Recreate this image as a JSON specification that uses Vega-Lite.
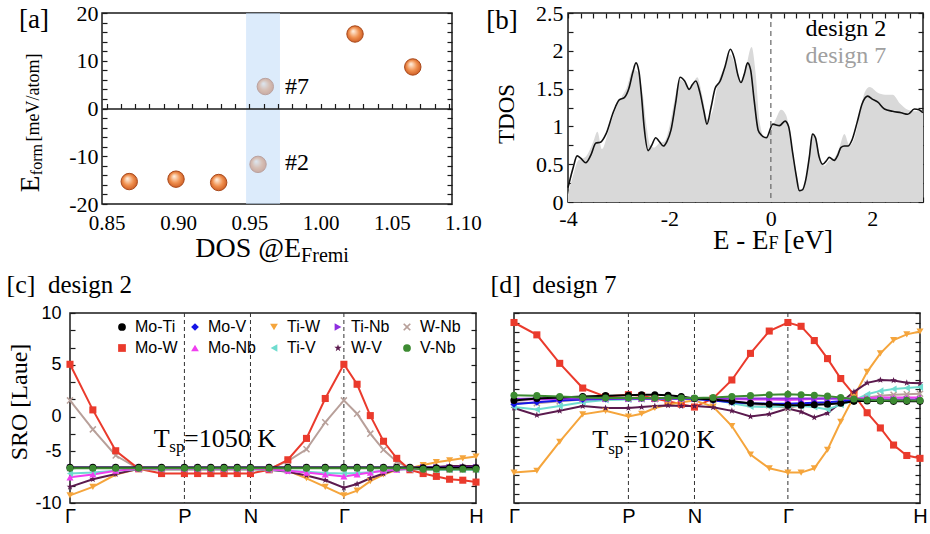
{
 "$schema": "https://vega.github.io/schema/vega-lite/v6.json",
 "background": "white",
 "padding": {"left": 5, "top": 1, "right": 0, "bottom": 0},
 "spacing": 4,
 "config": {
  "view": {"stroke": "#1a1a1a", "strokeWidth": 1.5},
  "axis": {"grid": false, "domain": false, "labelColor": "black", "tickColor": "#1a1a1a", "tickWidth": 1.2, "titleColor": "black", "titleFontWeight": "normal", "labelFont": "Liberation Serif", "titleFont": "Liberation Serif", "labelFlush": false, "labelOverlap": false},
  "text": {"font": "Liberation Serif", "color": "black"}
 },
 "resolve": {"legend": {"color": "independent", "shape": "independent"}},
 "datasets": {
  "kp": [{"k": 0.866}, {"k": 1.366}, {"k": 2.073}],
  "d2": [{"e":-4,"t":0.19},{"e":-3.9,"t":0.45},{"e":-3.82,"t":0.61},{"e":-3.75,"t":0.58},{"e":-3.65,"t":0.52},{"e":-3.55,"t":0.62},{"e":-3.45,"t":0.78},{"e":-3.36,"t":0.79},{"e":-3.25,"t":0.9},{"e":-3.1,"t":1.2},{"e":-2.99,"t":1.35},{"e":-2.89,"t":1.38},{"e":-2.8,"t":1.5},{"e":-2.72,"t":1.72},{"e":-2.66,"t":1.84},{"e":-2.6,"t":1.72},{"e":-2.55,"t":1.4},{"e":-2.5,"t":1.0},{"e":-2.42,"t":0.68},{"e":-2.35,"t":0.75},{"e":-2.27,"t":0.85},{"e":-2.2,"t":0.8},{"e":-2.12,"t":0.74},{"e":-2.05,"t":0.8},{"e":-1.97,"t":0.95},{"e":-1.88,"t":1.3},{"e":-1.79,"t":1.65},{"e":-1.7,"t":1.6},{"e":-1.61,"t":1.49},{"e":-1.55,"t":1.55},{"e":-1.48,"t":1.6},{"e":-1.4,"t":1.45},{"e":-1.32,"t":1.2},{"e":-1.26,"t":1.03},{"e":-1.18,"t":1.25},{"e":-1.1,"t":1.5},{"e":-1.0,"t":1.6},{"e":-0.9,"t":1.8},{"e":-0.8,"t":2.02},{"e":-0.72,"t":1.9},{"e":-0.65,"t":1.68},{"e":-0.59,"t":1.58},{"e":-0.52,"t":1.7},{"e":-0.46,"t":1.84},{"e":-0.4,"t":1.75},{"e":-0.33,"t":1.35},{"e":-0.25,"t":0.95},{"e":-0.18,"t":0.88},{"e":-0.09,"t":0.85},{"e":0.04,"t":1.03},{"e":0.17,"t":1.01},{"e":0.28,"t":1.07},{"e":0.35,"t":1.0},{"e":0.43,"t":0.65},{"e":0.5,"t":0.35},{"e":0.56,"t":0.15},{"e":0.62,"t":0.16},{"e":0.69,"t":0.3},{"e":0.76,"t":0.6},{"e":0.82,"t":0.9},{"e":0.88,"t":0.85},{"e":0.95,"t":0.6},{"e":1.02,"t":0.5},{"e":1.1,"t":0.55},{"e":1.15,"t":0.59},{"e":1.25,"t":0.55},{"e":1.32,"t":0.62},{"e":1.38,"t":0.72},{"e":1.45,"t":0.74},{"e":1.52,"t":0.74},{"e":1.6,"t":0.82},{"e":1.7,"t":1.05},{"e":1.8,"t":1.3},{"e":1.91,"t":1.4},{"e":2.0,"t":1.36},{"e":2.11,"t":1.32},{"e":2.24,"t":1.23},{"e":2.4,"t":1.2},{"e":2.57,"t":1.18},{"e":2.7,"t":1.16},{"e":2.83,"t":1.23},{"e":2.92,"t":1.22},{"e":3.0,"t":1.18}],
  "d7": [{"e":-4,"t":0.1},{"e":-3.9,"t":0.35},{"e":-3.8,"t":0.55},{"e":-3.65,"t":0.6},{"e":-3.5,"t":0.8},{"e":-3.42,"t":0.93},{"e":-3.33,"t":0.7},{"e":-3.2,"t":0.95},{"e":-3.05,"t":1.25},{"e":-2.95,"t":1.38},{"e":-2.85,"t":1.5},{"e":-2.72,"t":1.75},{"e":-2.62,"t":1.72},{"e":-2.52,"t":1.4},{"e":-2.45,"t":1.0},{"e":-2.38,"t":0.75},{"e":-2.3,"t":0.72},{"e":-2.2,"t":0.78},{"e":-2.1,"t":0.8},{"e":-2.0,"t":1.0},{"e":-1.9,"t":1.35},{"e":-1.8,"t":1.62},{"e":-1.7,"t":1.58},{"e":-1.6,"t":1.5},{"e":-1.45,"t":1.65},{"e":-1.35,"t":1.4},{"e":-1.25,"t":1.1},{"e":-1.15,"t":1.2},{"e":-1.05,"t":1.55},{"e":-0.9,"t":1.8},{"e":-0.8,"t":1.95},{"e":-0.7,"t":1.8},{"e":-0.6,"t":1.6},{"e":-0.5,"t":1.75},{"e":-0.38,"t":2.05},{"e":-0.3,"t":1.7},{"e":-0.22,"t":1.05},{"e":-0.12,"t":0.85},{"e":0.0,"t":0.95},{"e":0.1,"t":1.1},{"e":0.2,"t":1.22},{"e":0.3,"t":1.15},{"e":0.4,"t":0.8},{"e":0.5,"t":0.4},{"e":0.6,"t":0.15},{"e":0.7,"t":0.3},{"e":0.8,"t":0.85},{"e":0.87,"t":0.88},{"e":0.95,"t":0.65},{"e":1.05,"t":0.48},{"e":1.15,"t":0.55},{"e":1.25,"t":0.58},{"e":1.35,"t":0.72},{"e":1.45,"t":0.9},{"e":1.55,"t":0.75},{"e":1.65,"t":0.85},{"e":1.75,"t":1.15},{"e":1.85,"t":1.45},{"e":1.95,"t":1.52},{"e":2.1,"t":1.45},{"e":2.25,"t":1.42},{"e":2.4,"t":1.42},{"e":2.55,"t":1.3},{"e":2.7,"t":1.22},{"e":2.85,"t":1.2},{"e":3.0,"t":1.2}],
  "c": [
   {"s":"W-Nb","k":0,"v":0.8},{"s":"W-Nb","k":0.173,"v":-2.25},{"s":"W-Nb","k":0.346,"v":-5},{"s":"W-Nb","k":0.52,"v":-6.4},{"s":"W-Nb","k":0.693,"v":-6.5},{"s":"W-Nb","k":0.866,"v":-6.5},{"s":"W-Nb","k":0.966,"v":-6.5},{"s":"W-Nb","k":1.066,"v":-6.5},{"s":"W-Nb","k":1.166,"v":-6.5},{"s":"W-Nb","k":1.266,"v":-6.5},{"s":"W-Nb","k":1.366,"v":-6.5},{"s":"W-Nb","k":1.507,"v":-6.4},{"s":"W-Nb","k":1.649,"v":-5.6},{"s":"W-Nb","k":1.79,"v":-4.35},{"s":"W-Nb","k":1.932,"v":-1.5},{"s":"W-Nb","k":2.073,"v":0.8},{"s":"W-Nb","k":2.173,"v":-0.6},{"s":"W-Nb","k":2.273,"v":-2.7},{"s":"W-Nb","k":2.373,"v":-4.4},{"s":"W-Nb","k":2.473,"v":-5.65},{"s":"W-Nb","k":2.573,"v":-6.35},{"s":"W-Nb","k":2.673,"v":-6.5},{"s":"W-Nb","k":2.773,"v":-6.5},{"s":"W-Nb","k":2.873,"v":-6.5},{"s":"W-Nb","k":2.973,"v":-6.5},{"s":"W-Nb","k":3.073,"v":-6.5},
   {"s":"Mo-W","k":0,"v":4.6},{"s":"Mo-W","k":0.173,"v":-0.2},{"s":"Mo-W","k":0.346,"v":-4.5},{"s":"Mo-W","k":0.52,"v":-6.4},{"s":"Mo-W","k":0.693,"v":-6.9},{"s":"Mo-W","k":0.866,"v":-6.9},{"s":"Mo-W","k":0.966,"v":-6.9},{"s":"Mo-W","k":1.066,"v":-6.9},{"s":"Mo-W","k":1.166,"v":-6.9},{"s":"Mo-W","k":1.266,"v":-6.9},{"s":"Mo-W","k":1.366,"v":-6.9},{"s":"Mo-W","k":1.507,"v":-6.5},{"s":"Mo-W","k":1.649,"v":-5.45},{"s":"Mo-W","k":1.79,"v":-3.2},{"s":"Mo-W","k":1.932,"v":1},{"s":"Mo-W","k":2.073,"v":4.6},{"s":"Mo-W","k":2.173,"v":2.5},{"s":"Mo-W","k":2.273,"v":-0.8},{"s":"Mo-W","k":2.373,"v":-3.5},{"s":"Mo-W","k":2.473,"v":-5.3},{"s":"Mo-W","k":2.573,"v":-6.5},{"s":"Mo-W","k":2.673,"v":-6.9},{"s":"Mo-W","k":2.773,"v":-7.2},{"s":"Mo-W","k":2.873,"v":-7.5},{"s":"Mo-W","k":2.973,"v":-7.6},{"s":"Mo-W","k":3.073,"v":-7.8},
   {"s":"Ti-W","k":0,"v":-9.2},{"s":"Ti-W","k":0.173,"v":-8.3},{"s":"Ti-W","k":0.346,"v":-7},{"s":"Ti-W","k":0.52,"v":-6.4},{"s":"Ti-W","k":0.693,"v":-6.4},{"s":"Ti-W","k":0.866,"v":-6.4},{"s":"Ti-W","k":0.966,"v":-6.4},{"s":"Ti-W","k":1.066,"v":-6.4},{"s":"Ti-W","k":1.166,"v":-6.4},{"s":"Ti-W","k":1.266,"v":-6.4},{"s":"Ti-W","k":1.366,"v":-6.4},{"s":"Ti-W","k":1.507,"v":-6.45},{"s":"Ti-W","k":1.649,"v":-6.6},{"s":"Ti-W","k":1.79,"v":-7.4},{"s":"Ti-W","k":1.932,"v":-8.3},{"s":"Ti-W","k":2.073,"v":-9.2},{"s":"Ti-W","k":2.173,"v":-8.7},{"s":"Ti-W","k":2.273,"v":-7.7},{"s":"Ti-W","k":2.373,"v":-7},{"s":"Ti-W","k":2.473,"v":-6.5},{"s":"Ti-W","k":2.573,"v":-6.35},{"s":"Ti-W","k":2.673,"v":-6},{"s":"Ti-W","k":2.773,"v":-5.7},{"s":"Ti-W","k":2.873,"v":-5.5},{"s":"Ti-W","k":2.973,"v":-5.3},{"s":"Ti-W","k":3.073,"v":-5.1},
   {"s":"W-V","k":0,"v":-8.3},{"s":"W-V","k":0.173,"v":-7.5},{"s":"W-V","k":0.346,"v":-6.95},{"s":"W-V","k":0.52,"v":-6.4},{"s":"W-V","k":0.693,"v":-6.4},{"s":"W-V","k":0.866,"v":-6.4},{"s":"W-V","k":0.966,"v":-6.4},{"s":"W-V","k":1.066,"v":-6.4},{"s":"W-V","k":1.166,"v":-6.4},{"s":"W-V","k":1.266,"v":-6.4},{"s":"W-V","k":1.366,"v":-6.4},{"s":"W-V","k":1.507,"v":-6.5},{"s":"W-V","k":1.649,"v":-6.7},{"s":"W-V","k":1.79,"v":-7.1},{"s":"W-V","k":1.932,"v":-7.6},{"s":"W-V","k":2.073,"v":-8.4},{"s":"W-V","k":2.173,"v":-8},{"s":"W-V","k":2.273,"v":-7.4},{"s":"W-V","k":2.373,"v":-6.9},{"s":"W-V","k":2.473,"v":-6.45},{"s":"W-V","k":2.573,"v":-6.35},{"s":"W-V","k":2.673,"v":-6.25},{"s":"W-V","k":2.773,"v":-6.2},{"s":"W-V","k":2.873,"v":-6.1},{"s":"W-V","k":2.973,"v":-6.1},{"s":"W-V","k":3.073,"v":-6.1},
   {"s":"Ti-V","k":0,"v":-6.9},{"s":"Ti-V","k":0.173,"v":-6.8},{"s":"Ti-V","k":0.346,"v":-6.6},{"s":"Ti-V","k":0.52,"v":-6.45},{"s":"Ti-V","k":0.693,"v":-6.45},{"s":"Ti-V","k":0.866,"v":-6.45},{"s":"Ti-V","k":0.966,"v":-6.45},{"s":"Ti-V","k":1.066,"v":-6.45},{"s":"Ti-V","k":1.166,"v":-6.45},{"s":"Ti-V","k":1.266,"v":-6.45},{"s":"Ti-V","k":1.366,"v":-6.45},{"s":"Ti-V","k":1.507,"v":-6.5},{"s":"Ti-V","k":1.649,"v":-6.6},{"s":"Ti-V","k":1.79,"v":-6.7},{"s":"Ti-V","k":1.932,"v":-6.85},{"s":"Ti-V","k":2.073,"v":-6.9},{"s":"Ti-V","k":2.173,"v":-6.85},{"s":"Ti-V","k":2.273,"v":-6.75},{"s":"Ti-V","k":2.373,"v":-6.6},{"s":"Ti-V","k":2.473,"v":-6.5},{"s":"Ti-V","k":2.573,"v":-6.45},{"s":"Ti-V","k":2.673,"v":-6.45},{"s":"Ti-V","k":2.773,"v":-6.5},{"s":"Ti-V","k":2.873,"v":-6.5},{"s":"Ti-V","k":2.973,"v":-6.5},{"s":"Ti-V","k":3.073,"v":-6.5},
   {"s":"Mo-Nb","k":0,"v":-7.3},{"s":"Mo-Nb","k":0.173,"v":-7},{"s":"Mo-Nb","k":0.346,"v":-6.6},{"s":"Mo-Nb","k":0.52,"v":-6.4},{"s":"Mo-Nb","k":0.693,"v":-6.4},{"s":"Mo-Nb","k":0.866,"v":-6.4},{"s":"Mo-Nb","k":0.966,"v":-6.4},{"s":"Mo-Nb","k":1.066,"v":-6.4},{"s":"Mo-Nb","k":1.166,"v":-6.4},{"s":"Mo-Nb","k":1.266,"v":-6.4},{"s":"Mo-Nb","k":1.366,"v":-6.4},{"s":"Mo-Nb","k":1.507,"v":-6.45},{"s":"Mo-Nb","k":1.649,"v":-6.6},{"s":"Mo-Nb","k":1.79,"v":-6.8},{"s":"Mo-Nb","k":1.932,"v":-7},{"s":"Mo-Nb","k":2.073,"v":-7.2},{"s":"Mo-Nb","k":2.173,"v":-7},{"s":"Mo-Nb","k":2.273,"v":-6.8},{"s":"Mo-Nb","k":2.373,"v":-6.6},{"s":"Mo-Nb","k":2.473,"v":-6.5},{"s":"Mo-Nb","k":2.573,"v":-6.4},{"s":"Mo-Nb","k":2.673,"v":-6.4},{"s":"Mo-Nb","k":2.773,"v":-6.4},{"s":"Mo-Nb","k":2.873,"v":-6.4},{"s":"Mo-Nb","k":2.973,"v":-6.4},{"s":"Mo-Nb","k":3.073,"v":-6.4},
   {"s":"Mo-V","k":0,"v":-6.3},{"s":"Mo-V","k":0.173,"v":-6.3},{"s":"Mo-V","k":0.346,"v":-6.3},{"s":"Mo-V","k":0.52,"v":-6.3},{"s":"Mo-V","k":0.693,"v":-6.3},{"s":"Mo-V","k":0.866,"v":-6.3},{"s":"Mo-V","k":0.966,"v":-6.3},{"s":"Mo-V","k":1.066,"v":-6.3},{"s":"Mo-V","k":1.166,"v":-6.3},{"s":"Mo-V","k":1.266,"v":-6.3},{"s":"Mo-V","k":1.366,"v":-6.3},{"s":"Mo-V","k":1.507,"v":-6.3},{"s":"Mo-V","k":1.649,"v":-6.3},{"s":"Mo-V","k":1.79,"v":-6.3},{"s":"Mo-V","k":1.932,"v":-6.3},{"s":"Mo-V","k":2.073,"v":-6.3},{"s":"Mo-V","k":2.173,"v":-6.3},{"s":"Mo-V","k":2.273,"v":-6.3},{"s":"Mo-V","k":2.373,"v":-6.3},{"s":"Mo-V","k":2.473,"v":-6.3},{"s":"Mo-V","k":2.573,"v":-6.3},{"s":"Mo-V","k":2.673,"v":-6.3},{"s":"Mo-V","k":2.773,"v":-6.3},{"s":"Mo-V","k":2.873,"v":-6.3},{"s":"Mo-V","k":2.973,"v":-6.3},{"s":"Mo-V","k":3.073,"v":-6.3},
   {"s":"Ti-Nb","k":0,"v":-6.3},{"s":"Ti-Nb","k":0.173,"v":-6.3},{"s":"Ti-Nb","k":0.346,"v":-6.3},{"s":"Ti-Nb","k":0.52,"v":-6.3},{"s":"Ti-Nb","k":0.693,"v":-6.3},{"s":"Ti-Nb","k":0.866,"v":-6.3},{"s":"Ti-Nb","k":0.966,"v":-6.3},{"s":"Ti-Nb","k":1.066,"v":-6.3},{"s":"Ti-Nb","k":1.166,"v":-6.3},{"s":"Ti-Nb","k":1.266,"v":-6.3},{"s":"Ti-Nb","k":1.366,"v":-6.3},{"s":"Ti-Nb","k":1.507,"v":-6.3},{"s":"Ti-Nb","k":1.649,"v":-6.3},{"s":"Ti-Nb","k":1.79,"v":-6.3},{"s":"Ti-Nb","k":1.932,"v":-6.3},{"s":"Ti-Nb","k":2.073,"v":-6.3},{"s":"Ti-Nb","k":2.173,"v":-6.3},{"s":"Ti-Nb","k":2.273,"v":-6.3},{"s":"Ti-Nb","k":2.373,"v":-6.3},{"s":"Ti-Nb","k":2.473,"v":-6.3},{"s":"Ti-Nb","k":2.573,"v":-6.3},{"s":"Ti-Nb","k":2.673,"v":-6.25},{"s":"Ti-Nb","k":2.773,"v":-6.25},{"s":"Ti-Nb","k":2.873,"v":-6.25},{"s":"Ti-Nb","k":2.973,"v":-6.25},{"s":"Ti-Nb","k":3.073,"v":-6.25},
   {"s":"Mo-Ti","k":0,"v":-6.25},{"s":"Mo-Ti","k":0.173,"v":-6.25},{"s":"Mo-Ti","k":0.346,"v":-6.25},{"s":"Mo-Ti","k":0.52,"v":-6.25},{"s":"Mo-Ti","k":0.693,"v":-6.25},{"s":"Mo-Ti","k":0.866,"v":-6.25},{"s":"Mo-Ti","k":0.966,"v":-6.25},{"s":"Mo-Ti","k":1.066,"v":-6.25},{"s":"Mo-Ti","k":1.166,"v":-6.25},{"s":"Mo-Ti","k":1.266,"v":-6.25},{"s":"Mo-Ti","k":1.366,"v":-6.25},{"s":"Mo-Ti","k":1.507,"v":-6.25},{"s":"Mo-Ti","k":1.649,"v":-6.25},{"s":"Mo-Ti","k":1.79,"v":-6.25},{"s":"Mo-Ti","k":1.932,"v":-6.25},{"s":"Mo-Ti","k":2.073,"v":-6.25},{"s":"Mo-Ti","k":2.173,"v":-6.25},{"s":"Mo-Ti","k":2.273,"v":-6.25},{"s":"Mo-Ti","k":2.373,"v":-6.25},{"s":"Mo-Ti","k":2.473,"v":-6.25},{"s":"Mo-Ti","k":2.573,"v":-6.25},{"s":"Mo-Ti","k":2.673,"v":-6.3},{"s":"Mo-Ti","k":2.773,"v":-6.3},{"s":"Mo-Ti","k":2.873,"v":-6.3},{"s":"Mo-Ti","k":2.973,"v":-6.3},{"s":"Mo-Ti","k":3.073,"v":-6.3},
   {"s":"V-Nb","k":0,"v":-6.35},{"s":"V-Nb","k":0.173,"v":-6.35},{"s":"V-Nb","k":0.346,"v":-6.35},{"s":"V-Nb","k":0.52,"v":-6.35},{"s":"V-Nb","k":0.693,"v":-6.35},{"s":"V-Nb","k":0.866,"v":-6.35},{"s":"V-Nb","k":0.966,"v":-6.35},{"s":"V-Nb","k":1.066,"v":-6.35},{"s":"V-Nb","k":1.166,"v":-6.35},{"s":"V-Nb","k":1.266,"v":-6.35},{"s":"V-Nb","k":1.366,"v":-6.35},{"s":"V-Nb","k":1.507,"v":-6.35},{"s":"V-Nb","k":1.649,"v":-6.35},{"s":"V-Nb","k":1.79,"v":-6.35},{"s":"V-Nb","k":1.932,"v":-6.35},{"s":"V-Nb","k":2.073,"v":-6.35},{"s":"V-Nb","k":2.173,"v":-6.35},{"s":"V-Nb","k":2.273,"v":-6.35},{"s":"V-Nb","k":2.373,"v":-6.35},{"s":"V-Nb","k":2.473,"v":-6.35},{"s":"V-Nb","k":2.573,"v":-6.35},{"s":"V-Nb","k":2.673,"v":-6.45},{"s":"V-Nb","k":2.773,"v":-6.45},{"s":"V-Nb","k":2.873,"v":-6.45},{"s":"V-Nb","k":2.973,"v":-6.45},{"s":"V-Nb","k":3.073,"v":-6.45}
  ],
  "d": [
   {"s":"W-Nb","k":0,"v":0.6},{"s":"W-Nb","k":0.173,"v":0.5},{"s":"W-Nb","k":0.346,"v":0.7},{"s":"W-Nb","k":0.52,"v":0.9},{"s":"W-Nb","k":0.693,"v":0.95},{"s":"W-Nb","k":0.866,"v":0.95},{"s":"W-Nb","k":0.966,"v":0.95},{"s":"W-Nb","k":1.066,"v":0.95},{"s":"W-Nb","k":1.166,"v":0.95},{"s":"W-Nb","k":1.266,"v":0.95},{"s":"W-Nb","k":1.366,"v":0.95},{"s":"W-Nb","k":1.507,"v":0.9},{"s":"W-Nb","k":1.649,"v":0.6},{"s":"W-Nb","k":1.79,"v":0.4},{"s":"W-Nb","k":1.932,"v":0.3},{"s":"W-Nb","k":2.073,"v":0},{"s":"W-Nb","k":2.173,"v":0.3},{"s":"W-Nb","k":2.273,"v":0.4},{"s":"W-Nb","k":2.373,"v":0.4},{"s":"W-Nb","k":2.473,"v":0.6},{"s":"W-Nb","k":2.573,"v":0.85},{"s":"W-Nb","k":2.673,"v":1.1},{"s":"W-Nb","k":2.773,"v":1.3},{"s":"W-Nb","k":2.873,"v":1.4},{"s":"W-Nb","k":2.973,"v":1.45},{"s":"W-Nb","k":3.073,"v":1.5},
   {"s":"Mo-W","k":0,"v":9},{"s":"Mo-W","k":0.173,"v":7.7},{"s":"Mo-W","k":0.346,"v":4.7},{"s":"Mo-W","k":0.52,"v":2.1},{"s":"Mo-W","k":0.693,"v":1.2},{"s":"Mo-W","k":0.866,"v":1.4},{"s":"Mo-W","k":0.966,"v":1.3},{"s":"Mo-W","k":1.066,"v":1},{"s":"Mo-W","k":1.166,"v":0.7},{"s":"Mo-W","k":1.266,"v":0.4},{"s":"Mo-W","k":1.366,"v":0.1},{"s":"Mo-W","k":1.507,"v":1},{"s":"Mo-W","k":1.649,"v":2.95},{"s":"Mo-W","k":1.79,"v":5.75},{"s":"Mo-W","k":1.932,"v":8.1},{"s":"Mo-W","k":2.073,"v":9},{"s":"Mo-W","k":2.173,"v":8.6},{"s":"Mo-W","k":2.273,"v":7.1},{"s":"Mo-W","k":2.373,"v":5.2},{"s":"Mo-W","k":2.473,"v":3.1},{"s":"Mo-W","k":2.573,"v":1.4},{"s":"Mo-W","k":2.673,"v":-0.5},{"s":"Mo-W","k":2.773,"v":-2.1},{"s":"Mo-W","k":2.873,"v":-3.9},{"s":"Mo-W","k":2.973,"v":-5},{"s":"Mo-W","k":3.073,"v":-5.3},
   {"s":"Ti-W","k":0,"v":-6.8},{"s":"Ti-W","k":0.173,"v":-6.6},{"s":"Ti-W","k":0.346,"v":-3.55},{"s":"Ti-W","k":0.52,"v":-0.67},{"s":"Ti-W","k":0.693,"v":-0.3},{"s":"Ti-W","k":0.866,"v":-0.9},{"s":"Ti-W","k":0.966,"v":-0.6},{"s":"Ti-W","k":1.066,"v":0},{"s":"Ti-W","k":1.166,"v":0.35},{"s":"Ti-W","k":1.266,"v":0.6},{"s":"Ti-W","k":1.366,"v":0.8},{"s":"Ti-W","k":1.507,"v":0.15},{"s":"Ti-W","k":1.649,"v":-1.9},{"s":"Ti-W","k":1.79,"v":-4.9},{"s":"Ti-W","k":1.932,"v":-6.35},{"s":"Ti-W","k":2.073,"v":-6.8},{"s":"Ti-W","k":2.173,"v":-6.8},{"s":"Ti-W","k":2.273,"v":-6.35},{"s":"Ti-W","k":2.373,"v":-4.4},{"s":"Ti-W","k":2.473,"v":-1.45},{"s":"Ti-W","k":2.573,"v":1.2},{"s":"Ti-W","k":2.673,"v":3.8},{"s":"Ti-W","k":2.773,"v":5.75},{"s":"Ti-W","k":2.873,"v":7.15},{"s":"Ti-W","k":2.973,"v":7.75},{"s":"Ti-W","k":3.073,"v":8.05},
   {"s":"W-V","k":0,"v":0},{"s":"W-V","k":0.173,"v":-0.75},{"s":"W-V","k":0.346,"v":-0.3},{"s":"W-V","k":0.52,"v":0.2},{"s":"W-V","k":0.693,"v":0},{"s":"W-V","k":0.866,"v":0},{"s":"W-V","k":0.966,"v":0.1},{"s":"W-V","k":1.066,"v":0.2},{"s":"W-V","k":1.166,"v":0.27},{"s":"W-V","k":1.266,"v":0.2},{"s":"W-V","k":1.366,"v":0.2},{"s":"W-V","k":1.507,"v":0.07},{"s":"W-V","k":1.649,"v":-0.3},{"s":"W-V","k":1.79,"v":-0.9},{"s":"W-V","k":1.932,"v":-0.65},{"s":"W-V","k":2.073,"v":-0.05},{"s":"W-V","k":2.173,"v":-0.4},{"s":"W-V","k":2.273,"v":-1},{"s":"W-V","k":2.373,"v":-0.55},{"s":"W-V","k":2.473,"v":0.55},{"s":"W-V","k":2.573,"v":1.7},{"s":"W-V","k":2.673,"v":2.65},{"s":"W-V","k":2.773,"v":2.95},{"s":"W-V","k":2.873,"v":2.9},{"s":"W-V","k":2.973,"v":2.65},{"s":"W-V","k":3.073,"v":2.6},
   {"s":"Ti-V","k":0,"v":0.1},{"s":"Ti-V","k":0.173,"v":-0.15},{"s":"Ti-V","k":0.346,"v":0.2},{"s":"Ti-V","k":0.52,"v":0.6},{"s":"Ti-V","k":0.693,"v":0.85},{"s":"Ti-V","k":0.866,"v":0.9},{"s":"Ti-V","k":0.966,"v":0.95},{"s":"Ti-V","k":1.066,"v":0.95},{"s":"Ti-V","k":1.166,"v":0.95},{"s":"Ti-V","k":1.266,"v":0.95},{"s":"Ti-V","k":1.366,"v":0.95},{"s":"Ti-V","k":1.507,"v":0.9},{"s":"Ti-V","k":1.649,"v":0.5},{"s":"Ti-V","k":1.79,"v":0.15},{"s":"Ti-V","k":1.932,"v":0.1},{"s":"Ti-V","k":2.073,"v":0.2},{"s":"Ti-V","k":2.173,"v":0.2},{"s":"Ti-V","k":2.273,"v":0.1},{"s":"Ti-V","k":2.373,"v":-0.15},{"s":"Ti-V","k":2.473,"v":0.35},{"s":"Ti-V","k":2.573,"v":0.8},{"s":"Ti-V","k":2.673,"v":1.45},{"s":"Ti-V","k":2.773,"v":1.8},{"s":"Ti-V","k":2.873,"v":2},{"s":"Ti-V","k":2.973,"v":2.1},{"s":"Ti-V","k":3.073,"v":2.2},
   {"s":"Mo-Nb","k":0,"v":0.9},{"s":"Mo-Nb","k":0.173,"v":0.9},{"s":"Mo-Nb","k":0.346,"v":0.95},{"s":"Mo-Nb","k":0.52,"v":1},{"s":"Mo-Nb","k":0.693,"v":1},{"s":"Mo-Nb","k":0.866,"v":1},{"s":"Mo-Nb","k":0.966,"v":1},{"s":"Mo-Nb","k":1.066,"v":1},{"s":"Mo-Nb","k":1.166,"v":1},{"s":"Mo-Nb","k":1.266,"v":1},{"s":"Mo-Nb","k":1.366,"v":1},{"s":"Mo-Nb","k":1.507,"v":1},{"s":"Mo-Nb","k":1.649,"v":0.95},{"s":"Mo-Nb","k":1.79,"v":0.9},{"s":"Mo-Nb","k":1.932,"v":0.9},{"s":"Mo-Nb","k":2.073,"v":0.85},{"s":"Mo-Nb","k":2.173,"v":0.9},{"s":"Mo-Nb","k":2.273,"v":0.95},{"s":"Mo-Nb","k":2.373,"v":1},{"s":"Mo-Nb","k":2.473,"v":1},{"s":"Mo-Nb","k":2.573,"v":1},{"s":"Mo-Nb","k":2.673,"v":1.05},{"s":"Mo-Nb","k":2.773,"v":1.1},{"s":"Mo-Nb","k":2.873,"v":1.1},{"s":"Mo-Nb","k":2.973,"v":1.1},{"s":"Mo-Nb","k":3.073,"v":1.1},
   {"s":"Mo-V","k":0,"v":0.4},{"s":"Mo-V","k":0.173,"v":0.6},{"s":"Mo-V","k":0.346,"v":0.8},{"s":"Mo-V","k":0.52,"v":0.9},{"s":"Mo-V","k":0.693,"v":0.95},{"s":"Mo-V","k":0.866,"v":1},{"s":"Mo-V","k":0.966,"v":1},{"s":"Mo-V","k":1.066,"v":1},{"s":"Mo-V","k":1.166,"v":1},{"s":"Mo-V","k":1.266,"v":1},{"s":"Mo-V","k":1.366,"v":0.95},{"s":"Mo-V","k":1.507,"v":0.8},{"s":"Mo-V","k":1.649,"v":0.6},{"s":"Mo-V","k":1.79,"v":0.5},{"s":"Mo-V","k":1.932,"v":0.45},{"s":"Mo-V","k":2.073,"v":0.45},{"s":"Mo-V","k":2.173,"v":0.5},{"s":"Mo-V","k":2.273,"v":0.55},{"s":"Mo-V","k":2.373,"v":0.6},{"s":"Mo-V","k":2.473,"v":0.7},{"s":"Mo-V","k":2.573,"v":0.8},{"s":"Mo-V","k":2.673,"v":0.85},{"s":"Mo-V","k":2.773,"v":0.85},{"s":"Mo-V","k":2.873,"v":0.85},{"s":"Mo-V","k":2.973,"v":0.85},{"s":"Mo-V","k":3.073,"v":0.85},
   {"s":"Ti-Nb","k":0,"v":0.95},{"s":"Ti-Nb","k":0.173,"v":1},{"s":"Ti-Nb","k":0.346,"v":1},{"s":"Ti-Nb","k":0.52,"v":1},{"s":"Ti-Nb","k":0.693,"v":1},{"s":"Ti-Nb","k":0.866,"v":1},{"s":"Ti-Nb","k":0.966,"v":1},{"s":"Ti-Nb","k":1.066,"v":1},{"s":"Ti-Nb","k":1.166,"v":1},{"s":"Ti-Nb","k":1.266,"v":1},{"s":"Ti-Nb","k":1.366,"v":1},{"s":"Ti-Nb","k":1.507,"v":1},{"s":"Ti-Nb","k":1.649,"v":1},{"s":"Ti-Nb","k":1.79,"v":1},{"s":"Ti-Nb","k":1.932,"v":1},{"s":"Ti-Nb","k":2.073,"v":1},{"s":"Ti-Nb","k":2.173,"v":1},{"s":"Ti-Nb","k":2.273,"v":1},{"s":"Ti-Nb","k":2.373,"v":1},{"s":"Ti-Nb","k":2.473,"v":1},{"s":"Ti-Nb","k":2.573,"v":0.95},{"s":"Ti-Nb","k":2.673,"v":0.9},{"s":"Ti-Nb","k":2.773,"v":0.9},{"s":"Ti-Nb","k":2.873,"v":0.9},{"s":"Ti-Nb","k":2.973,"v":0.9},{"s":"Ti-Nb","k":3.073,"v":0.9},
   {"s":"Mo-Ti","k":0,"v":0.8},{"s":"Mo-Ti","k":0.173,"v":1},{"s":"Mo-Ti","k":0.346,"v":1.1},{"s":"Mo-Ti","k":0.52,"v":1.2},{"s":"Mo-Ti","k":0.693,"v":1.3},{"s":"Mo-Ti","k":0.866,"v":1.35},{"s":"Mo-Ti","k":0.966,"v":1.4},{"s":"Mo-Ti","k":1.066,"v":1.4},{"s":"Mo-Ti","k":1.166,"v":1.35},{"s":"Mo-Ti","k":1.266,"v":1.2},{"s":"Mo-Ti","k":1.366,"v":1},{"s":"Mo-Ti","k":1.507,"v":0.9},{"s":"Mo-Ti","k":1.649,"v":0.7},{"s":"Mo-Ti","k":1.79,"v":0.5},{"s":"Mo-Ti","k":1.932,"v":0.4},{"s":"Mo-Ti","k":2.073,"v":0.3},{"s":"Mo-Ti","k":2.173,"v":0.3},{"s":"Mo-Ti","k":2.273,"v":0.35},{"s":"Mo-Ti","k":2.373,"v":0.4},{"s":"Mo-Ti","k":2.473,"v":0.5},{"s":"Mo-Ti","k":2.573,"v":0.7},{"s":"Mo-Ti","k":2.673,"v":0.75},{"s":"Mo-Ti","k":2.773,"v":0.75},{"s":"Mo-Ti","k":2.873,"v":0.7},{"s":"Mo-Ti","k":2.973,"v":0.7},{"s":"Mo-Ti","k":3.073,"v":0.7},
   {"s":"V-Nb","k":0,"v":1.35},{"s":"V-Nb","k":0.173,"v":1.3},{"s":"V-Nb","k":0.346,"v":1.2},{"s":"V-Nb","k":0.52,"v":1.1},{"s":"V-Nb","k":0.693,"v":1.05},{"s":"V-Nb","k":0.866,"v":1.05},{"s":"V-Nb","k":0.966,"v":1.05},{"s":"V-Nb","k":1.066,"v":1.05},{"s":"V-Nb","k":1.166,"v":1.05},{"s":"V-Nb","k":1.266,"v":1.05},{"s":"V-Nb","k":1.366,"v":1.05},{"s":"V-Nb","k":1.507,"v":1.1},{"s":"V-Nb","k":1.649,"v":1.2},{"s":"V-Nb","k":1.79,"v":1.3},{"s":"V-Nb","k":1.932,"v":1.4},{"s":"V-Nb","k":2.073,"v":1.45},{"s":"V-Nb","k":2.173,"v":1.4},{"s":"V-Nb","k":2.273,"v":1.35},{"s":"V-Nb","k":2.373,"v":1.25},{"s":"V-Nb","k":2.473,"v":1.1},{"s":"V-Nb","k":2.573,"v":0.95},{"s":"V-Nb","k":2.673,"v":0.85},{"s":"V-Nb","k":2.773,"v":0.8},{"s":"V-Nb","k":2.873,"v":0.8},{"s":"V-Nb","k":2.973,"v":0.8},{"s":"V-Nb","k":3.073,"v":0.8}
  ]
 },
 "vconcat": [
  {
   "bounds": "flush",
   "spacing": 0,
   "hconcat": [
    {
     "width": 32, "height": 191,
     "view": {"stroke": null},
     "data": {"values": []},
     "mark": "point",
     "encoding": {}
    },
    {
     "width": 350, "height": 191,
     "resolve": {"axis": {"x": "independent", "y": "independent"}},
     "layer": [
      {
       "data": {"values": [{"dos":0.8658,"e":-15.3},{"dos":0.8986,"e":-14.8},{"dos":0.9285,"e":-15.5},{"dos":0.9561,"e":-11.7},{"dos":0.9612,"e":4.6},{"dos":1.0241,"e":15.6},{"dos":1.0646,"e":8.7}]},
       "mark": {"type": "point", "shape": "circle", "filled": true, "opacity": 1, "size": 270, "fill": {"gradient": "radial", "x1": 0.38, "y1": 0.32, "r1": 0.02, "x2": 0.5, "y2": 0.5, "r2": 0.55, "stops": [{"offset": 0, "color": "#fff0e0"}, {"offset": 0.55, "color": "#f0904f"}, {"offset": 1, "color": "#c9571f"}]}, "stroke": "#a9491b", "strokeWidth": 1},
       "encoding": {
        "x": {"field": "dos", "type": "quantitative", "scale": {"domain": [0.8467, 1.0921], "zero": false, "nice": false}, "axis": {"orient": "bottom", "values": [0.85, 0.9, 0.95, 1, 1.05], "format": ".2f", "ticks": false, "labelFont": "Liberation Serif", "labelFontSize": 21, "labelPadding": 8, "title": null}},
        "y": {"field": "e", "type": "quantitative", "scale": {"domain": [-20, 20], "zero": false, "nice": false}, "axis": {"orient": "left", "values": [-20,-18,-16,-14,-12,-10,-8,-6,-4,-2,0,2,4,6,8,10,12,14,16,18,20], "labelExpr": "datum.value % 10 === 0 ? '' + datum.value : ''", "tickSize": -5, "labelPadding": 9, "labelFont": "Liberation Serif", "labelFontSize": 22, "title": null}}
       }
      },
      {
       "data": {"values": [{"lo": 0.9477, "hi": 0.9715}]},
       "mark": {"type": "rect", "color": "#c5def8", "opacity": 0.6},
       "encoding": {
        "x": {"field": "lo", "type": "quantitative", "scale": {"domain": [0.8467, 1.0921], "zero": false, "nice": false}, "axis": {"orient": "top", "offset": -95.5, "values": [0.85,0.86,0.87,0.88,0.89,0.9,0.91,0.92,0.93,0.94,0.95,0.96,0.97,0.98,0.99,1,1.01,1.02,1.03,1.04,1.05,1.06,1.07,1.08,1.09], "labels": false, "tickSize": 5, "domain": true, "domainColor": "#1a1a1a", "domainWidth": 1.5, "title": null, "zindex": 1}},
        "x2": {"field": "hi"}
       }
      },
      {
       "data": {"values": [{"dos": 0.975, "e": 4.6, "lab": "#7"}, {"dos": 0.975, "e": -11.5, "lab": "#2"}]},
       "mark": {"type": "text", "align": "left", "baseline": "middle", "fontSize": 24},
       "encoding": {
        "x": {"field": "dos", "type": "quantitative", "scale": {"domain": [0.8467, 1.0921], "zero": false, "nice": false}, "axis": null},
        "y": {"field": "e", "type": "quantitative", "scale": {"domain": [-20, 20], "zero": false, "nice": false}, "axis": {"orient": "right", "values": [-20,-18,-16,-14,-12,-10,-8,-6,-4,-2,0,2,4,6,8,10,12,14,16,18,20], "labels": false, "tickSize": -5, "title": null}},
        "text": {"field": "lab"}
       }
      },
      {
       "data": {"values": [{"dos": 1.1, "e": -24.1, "lab": "1.10"}]},
       "mark": {"type": "text", "align": "center", "baseline": "middle", "fontSize": 21},
       "encoding": {"x": {"field": "dos", "type": "quantitative", "scale": {"domain": [0.8467, 1.0921], "zero": false, "nice": false}, "axis": null}, "y": {"field": "e", "type": "quantitative", "scale": {"domain": [-20, 20], "zero": false, "nice": false}, "axis": null}, "text": {"field": "lab"}}
      },
      {
       "data": {"values": [{"dos": 0.799, "e": 16.8, "lab": "[a]"}]},
       "mark": {"type": "text", "align": "center", "baseline": "alphabetic", "fontSize": 27},
       "encoding": {"x": {"field": "dos", "type": "quantitative", "scale": {"domain": [0.8467, 1.0921], "zero": false, "nice": false}, "axis": null}, "y": {"field": "e", "type": "quantitative", "scale": {"domain": [-20, 20], "zero": false, "nice": false}, "axis": null}, "text": {"field": "lab"}}
      },
      {
       "data": {"values": [{"dos": 0.8025, "e": -15.8, "lab": "E"}]},
       "mark": {"type": "text", "align": "center", "baseline": "alphabetic", "fontSize": 27, "angle": 270},
       "encoding": {"x": {"field": "dos", "type": "quantitative", "scale": {"domain": [0.8467, 1.0921], "zero": false, "nice": false}, "axis": null}, "y": {"field": "e", "type": "quantitative", "scale": {"domain": [-20, 20], "zero": false, "nice": false}, "axis": null}, "text": {"field": "lab"}}
      },
      {
       "data": {"values": [{"dos": 0.8043, "e": -10.7, "lab": "form"}]},
       "mark": {"type": "text", "align": "center", "baseline": "alphabetic", "fontSize": 16, "angle": 270},
       "encoding": {"x": {"field": "dos", "type": "quantitative", "scale": {"domain": [0.8467, 1.0921], "zero": false, "nice": false}, "axis": null}, "y": {"field": "e", "type": "quantitative", "scale": {"domain": [-20, 20], "zero": false, "nice": false}, "axis": null}, "text": {"field": "lab"}}
      },
      {
       "data": {"values": [{"dos": 0.8022, "e": 2.3, "lab": "[meV/atom]"}]},
       "mark": {"type": "text", "align": "center", "baseline": "alphabetic", "fontSize": 18, "angle": 270},
       "encoding": {"x": {"field": "dos", "type": "quantitative", "scale": {"domain": [0.8467, 1.0921], "zero": false, "nice": false}, "axis": null}, "y": {"field": "e", "type": "quantitative", "scale": {"domain": [-20, 20], "zero": false, "nice": false}, "axis": null}, "text": {"field": "lab"}}
      },
      {
       "data": {"values": [{"dos": 0.9863, "e": -31.2, "lab": "DOS @E"}]},
       "mark": {"type": "text", "align": "right", "baseline": "alphabetic", "fontSize": 28},
       "encoding": {"x": {"field": "dos", "type": "quantitative", "scale": {"domain": [0.8467, 1.0921], "zero": false, "nice": false}, "axis": null}, "y": {"field": "e", "type": "quantitative", "scale": {"domain": [-20, 20], "zero": false, "nice": false}, "axis": null}, "text": {"field": "lab"}}
      },
      {
       "data": {"values": [{"dos": 0.9863, "e": -32.1, "lab": "Fremi"}]},
       "mark": {"type": "text", "align": "left", "baseline": "alphabetic", "fontSize": 20},
       "encoding": {"x": {"field": "dos", "type": "quantitative", "scale": {"domain": [0.8467, 1.0921], "zero": false, "nice": false}, "axis": null}, "y": {"field": "e", "type": "quantitative", "scale": {"domain": [-20, 20], "zero": false, "nice": false}, "axis": null}, "text": {"field": "lab"}}
      }
     ]
    },
    {
     "width": 116, "height": 191,
     "view": {"stroke": null},
     "data": {"values": []},
     "mark": "point",
     "encoding": {}
    },
    {
     "width": 355, "height": 189,
     "resolve": {"axis": {"x": "independent", "y": "independent"}},
     "layer": [
      {
       "data": {"name": "d7"},
       "mark": {"type": "area", "color": "#d9d9d9", "interpolate": "monotone"},
       "encoding": {
        "x": {"field": "e", "type": "quantitative", "scale": {"domain": [-4, 3], "zero": false, "nice": false}, "axis": {"orient": "bottom", "values": [-4,-3.75,-3.5,-3.25,-3,-2.75,-2.5,-2.25,-2,-1.75,-1.5,-1.25,-1,-0.75,-0.5,-0.25,0,0.25,0.5,0.75,1,1.25,1.5,1.75,2,2.25,2.5,2.75,3], "labelExpr": "datum.value % 2 === 0 ? '' + datum.value : ''", "tickSize": -5, "labelPadding": 11, "labelFont": "Liberation Serif", "labelFontSize": 22, "title": null}},
        "y": {"field": "t", "type": "quantitative", "scale": {"domain": [0, 2.5], "zero": false, "nice": false}, "axis": {"orient": "left", "values": [0,0.25,0.5,0.75,1,1.25,1.5,1.75,2,2.25,2.5], "labelExpr": "(datum.value * 2) % 1 === 0 ? '' + datum.value : ''", "tickSize": -5, "labelPadding": 10, "labelFont": "Liberation Serif", "labelFontSize": 22, "title": null}}
       }
      },
      {
       "data": {"name": "d2"},
       "mark": {"type": "line", "color": "#111111", "strokeWidth": 1.6, "interpolate": "monotone"},
       "encoding": {
        "x": {"field": "e", "type": "quantitative", "scale": {"domain": [-4, 3], "zero": false, "nice": false}, "axis": {"orient": "top", "values": [-4,-3.75,-3.5,-3.25,-3,-2.75,-2.5,-2.25,-2,-1.75,-1.5,-1.25,-1,-0.75,-0.5,-0.25,0,0.25,0.5,0.75,1,1.25,1.5,1.75,2,2.25,2.5,2.75,3], "labels": false, "tickSize": -5, "title": null}},
        "y": {"field": "t", "type": "quantitative", "scale": {"domain": [0, 2.5], "zero": false, "nice": false}, "axis": {"orient": "right", "values": [0,0.25,0.5,0.75,1,1.25,1.5,1.75,2,2.25,2.5], "labels": false, "tickSize": -5, "title": null}}
       }
      },
      {
       "data": {"values": [{"e": 0}]},
       "mark": {"type": "rule", "color": "#666666", "strokeDash": [5, 4], "strokeWidth": 1.2},
       "encoding": {"x": {"field": "e", "type": "quantitative", "scale": {"domain": [-4, 3], "zero": false, "nice": false}, "axis": null}}
      },
      {
       "data": {"values": [{"e": 0.684, "t": 2.196, "lab": "design 2"}]},
       "mark": {"type": "text", "align": "left", "baseline": "alphabetic", "fontSize": 24, "color": "#000000"},
       "encoding": {"x": {"field": "e", "type": "quantitative", "scale": {"domain": [-4, 3], "zero": false, "nice": false}, "axis": null}, "y": {"field": "t", "type": "quantitative", "scale": {"domain": [0, 2.5], "zero": false, "nice": false}, "axis": null}, "text": {"field": "lab"}}
      },
      {
       "data": {"values": [{"e": 0.684, "t": 1.843, "lab": "design 7"}]},
       "mark": {"type": "text", "align": "left", "baseline": "alphabetic", "fontSize": 24, "color": "#a0a0a0"},
       "encoding": {"x": {"field": "e", "type": "quantitative", "scale": {"domain": [-4, 3], "zero": false, "nice": false}, "axis": null}, "y": {"field": "t", "type": "quantitative", "scale": {"domain": [0, 2.5], "zero": false, "nice": false}, "axis": null}, "text": {"field": "lab"}}
      },
      {
       "data": {"values": [{"e": -5.3, "t": 2.288, "lab": "[b]"}]},
       "mark": {"type": "text", "align": "center", "baseline": "alphabetic", "fontSize": 27},
       "encoding": {"x": {"field": "e", "type": "quantitative", "scale": {"domain": [-4, 3], "zero": false, "nice": false}, "axis": null}, "y": {"field": "t", "type": "quantitative", "scale": {"domain": [0, 2.5], "zero": false, "nice": false}, "axis": null}, "text": {"field": "lab"}}
      },
      {
       "data": {"values": [{"e": -5.065, "t": 1.164, "lab": "TDOS"}]},
       "mark": {"type": "text", "align": "center", "baseline": "alphabetic", "fontSize": 23, "angle": 270},
       "encoding": {"x": {"field": "e", "type": "quantitative", "scale": {"domain": [-4, 3], "zero": false, "nice": false}, "axis": null}, "y": {"field": "t", "type": "quantitative", "scale": {"domain": [0, 2.5], "zero": false, "nice": false}, "axis": null}, "text": {"field": "lab"}}
      },
      {
       "data": {"values": [{"e": -0.047, "t": -0.622, "lab": "E  -  E"}]},
       "mark": {"type": "text", "align": "right", "baseline": "alphabetic", "fontSize": 27},
       "encoding": {"x": {"field": "e", "type": "quantitative", "scale": {"domain": [-4, 3], "zero": false, "nice": false}, "axis": null}, "y": {"field": "t", "type": "quantitative", "scale": {"domain": [0, 2.5], "zero": false, "nice": false}, "axis": null}, "text": {"field": "lab"}}
      },
      {
       "data": {"values": [{"e": -0.047, "t": -0.622, "lab": "F"}]},
       "mark": {"type": "text", "align": "left", "baseline": "alphabetic", "fontSize": 18},
       "encoding": {"x": {"field": "e", "type": "quantitative", "scale": {"domain": [-4, 3], "zero": false, "nice": false}, "axis": null}, "y": {"field": "t", "type": "quantitative", "scale": {"domain": [0, 2.5], "zero": false, "nice": false}, "axis": null}, "text": {"field": "lab"}}
      },
      {
       "data": {"values": [{"e": 0.249, "t": -0.622, "lab": "[eV]"}]},
       "mark": {"type": "text", "align": "left", "baseline": "alphabetic", "fontSize": 27},
       "encoding": {"x": {"field": "e", "type": "quantitative", "scale": {"domain": [-4, 3], "zero": false, "nice": false}, "axis": null}, "y": {"field": "t", "type": "quantitative", "scale": {"domain": [0, 2.5], "zero": false, "nice": false}, "axis": null}, "text": {"field": "lab"}}
      }
     ]
    }
   ]
  },
  {
   "bounds": "flush",
   "spacing": 0,
   "resolve": {"legend": {"color": "independent", "shape": "independent"}},
   "hconcat": [
    {
     "width": 406, "height": 190,
     "resolve": {"axis": {"x": "independent", "y": "independent"}},
     "layer": [
      {
       "data": {"name": "kp"},
       "mark": {"type": "rule", "color": "#333333", "strokeDash": [4, 3], "strokeWidth": 1},
       "encoding": {"x": {"field": "k", "type": "quantitative", "scale": {"domain": [0, 3.073], "zero": false, "nice": false}, "axis": {"orient": "bottom", "values": [0, 0.866, 1.366, 2.073, 3.073], "labelExpr": "datum.value < 0.5 ? 'Γ' : datum.value < 1 ? 'P' : datum.value < 1.7 ? 'N' : datum.value < 2.5 ? 'Γ' : 'H'", "ticks": false, "labelFont": "Liberation Sans", "labelFontSize": 20, "labelPadding": 3, "title": null}}}
      },
      {
       "data": {"name": "c"},
       "mark": {"type": "line", "strokeWidth": 2},
       "encoding": {
        "x": {"field": "k", "type": "quantitative", "scale": {"domain": [0, 3.073], "zero": false, "nice": false}, "axis": null},
        "y": {"field": "v", "type": "quantitative", "scale": {"domain": [-10, 10], "zero": false, "nice": false}, "axis": {"orient": "left", "values": [-10,-8.182,-6.364,-4.545,-2.727,-0.909,0.909,2.727,4.545,6.364,8.182,10], "labels": false, "tickSize": -5, "title": null}},
        "stroke": {"field": "s", "type": "nominal", "scale": {"domain": ["Mo-Ti","Mo-V","Ti-W","Ti-Nb","W-Nb","Mo-W","Mo-Nb","Ti-V","W-V","V-Nb"], "range": ["#000000","#1515e6","#f5a53c","#8e2ee0","#b8a09a","#ea3a2c","#f03ff0","#6fdccf","#5b1a4e","#3d8b32"]}, "legend": null}
       }
      },
      {
       "data": {"name": "c"},
       "mark": {"type": "point", "filled": true, "opacity": 1, "size": 50},
       "encoding": {
        "x": {"field": "k", "type": "quantitative", "scale": {"domain": [0, 3.073], "zero": false, "nice": false}, "axis": null},
        "y": {"field": "v", "type": "quantitative", "scale": {"domain": [-10, 10], "zero": false, "nice": false}, "axis": {"orient": "left", "values": [-10, -4.545, -0.909, 4.545, 10], "labelExpr": "datum.value < -9 ? '-10' : datum.value < -4 ? '-5' : datum.value < 0 ? '0' : datum.value < 5 ? '5' : '10'", "ticks": false, "labelPadding": 9, "labelFont": "Liberation Sans", "labelFontSize": 18, "title": null}},
        "color": {"field": "s", "type": "nominal", "scale": {"domain": ["Mo-Ti","Mo-V","Ti-W","Ti-Nb","W-Nb","Mo-W","Mo-Nb","Ti-V","W-V","V-Nb"], "range": ["#000000","#1515e6","#f5a53c","#8e2ee0","#b8a09a","#ea3a2c","#f03ff0","#6fdccf","#5b1a4e","#3d8b32"]}, "legend": {"orient": "none", "legendX": 44, "legendY": 6, "columns": 5, "direction": "horizontal", "title": null, "symbolSize": 60, "labelFont": "Liberation Sans", "labelFontSize": 16, "labelColor": "black", "columnPadding": 9, "rowPadding": 5, "labelOffset": 5, "padding": 0, "symbolStrokeWidth": 0}},
        "shape": {"field": "s", "type": "nominal", "scale": {"domain": ["Mo-Ti","Mo-V","Ti-W","Ti-Nb","W-Nb","Mo-W","Mo-Nb","Ti-V","W-V","V-Nb"], "range": ["circle","diamond","triangle-down","triangle-right","M-1,-0.7L-0.7,-1L0,-0.3L0.7,-1L1,-0.7L0.3,0L1,0.7L0.7,1L0,0.3L-0.7,1L-1,0.7L-0.3,0Z","square","triangle-up","triangle-left","M0,-1L0.235,-0.324L0.951,-0.309L0.38,0.124L0.588,0.809L0,0.4L-0.588,0.809L-0.38,0.124L-0.951,-0.309L-0.235,-0.324Z","circle"]}, "legend": {"orient": "none", "legendX": 44, "legendY": 6, "columns": 5, "direction": "horizontal", "title": null, "symbolSize": 60, "labelFont": "Liberation Sans", "labelFontSize": 16, "labelColor": "black", "columnPadding": 9, "rowPadding": 5, "labelOffset": 5, "padding": 0, "symbolStrokeWidth": 0}}
       }
      },
      {
       "data": {"values": [{"k": 0.634, "v": -4.07, "lab": "T"}, {"k": 0.863, "v": -4.07, "lab": "=1050 K"}]},
       "mark": {"type": "text", "align": "left", "baseline": "alphabetic", "fontSize": 26},
       "encoding": {
        "x": {"field": "k", "type": "quantitative", "scale": {"domain": [0, 3.073], "zero": false, "nice": false}, "axis": null},
        "y": {"field": "v", "type": "quantitative", "scale": {"domain": [-10, 10], "zero": false, "nice": false}, "axis": {"orient": "right", "values": [-10,-8.182,-6.364,-4.545,-2.727,-0.909,0.909,2.727,4.545,6.364,8.182,10], "labels": false, "tickSize": -5, "title": null}},
        "text": {"field": "lab"}
       }
      },
      {
       "data": {"values": [{"k": 0.752, "v": -4.63, "lab": "sp"}]},
       "mark": {"type": "text", "align": "left", "baseline": "alphabetic", "fontSize": 17},
       "encoding": {"x": {"field": "k", "type": "quantitative", "scale": {"domain": [0, 3.073], "zero": false, "nice": false}, "axis": null}, "y": {"field": "v", "type": "quantitative", "scale": {"domain": [-10, 10], "zero": false, "nice": false}, "axis": null}, "text": {"field": "lab"}}
      },
      {
       "data": {"values": [{"k": -0.3255, "v": 0.63, "lab": "SRO [Laue]"}]},
       "mark": {"type": "text", "align": "center", "baseline": "alphabetic", "fontSize": 24, "angle": 270},
       "encoding": {"x": {"field": "k", "type": "quantitative", "scale": {"domain": [0, 3.073], "zero": false, "nice": false}, "axis": null}, "y": {"field": "v", "type": "quantitative", "scale": {"domain": [-10, 10], "zero": false, "nice": false}, "axis": null}, "text": {"field": "lab"}}
      },
      {
       "data": {"values": [{"k": -0.371, "v": 12.1, "lab": "[c]"}]},
       "mark": {"type": "text", "align": "center", "baseline": "alphabetic", "fontSize": 26},
       "encoding": {"x": {"field": "k", "type": "quantitative", "scale": {"domain": [0, 3.073], "zero": false, "nice": false}, "axis": null}, "y": {"field": "v", "type": "quantitative", "scale": {"domain": [-10, 10], "zero": false, "nice": false}, "axis": null}, "text": {"field": "lab"}}
      },
      {
       "data": {"values": [{"k": -0.1665, "v": 12.1, "lab": "design 2"}]},
       "mark": {"type": "text", "align": "left", "baseline": "alphabetic", "fontSize": 25},
       "encoding": {"x": {"field": "k", "type": "quantitative", "scale": {"domain": [0, 3.073], "zero": false, "nice": false}, "axis": null}, "y": {"field": "v", "type": "quantitative", "scale": {"domain": [-10, 10], "zero": false, "nice": false}, "axis": null}, "text": {"field": "lab"}}
      }
     ]
    },
    {
     "width": 38, "height": 190,
     "view": {"stroke": null},
     "data": {"values": []},
     "mark": "point",
     "encoding": {}
    },
    {
     "width": 406, "height": 190,
     "resolve": {"axis": {"x": "independent", "y": "independent"}},
     "layer": [
      {
       "data": {"name": "kp"},
       "mark": {"type": "rule", "color": "#333333", "strokeDash": [4, 3], "strokeWidth": 1},
       "encoding": {"x": {"field": "k", "type": "quantitative", "scale": {"domain": [0, 3.073], "zero": false, "nice": false}, "axis": {"orient": "bottom", "values": [0, 0.866, 1.366, 2.073, 3.073], "labelExpr": "datum.value < 0.5 ? 'Γ' : datum.value < 1 ? 'P' : datum.value < 1.7 ? 'N' : datum.value < 2.5 ? 'Γ' : 'H'", "ticks": false, "labelFont": "Liberation Sans", "labelFontSize": 20, "labelPadding": 3, "title": null}}}
      },
      {
       "data": {"name": "d"},
       "mark": {"type": "line", "strokeWidth": 2},
       "encoding": {
        "x": {"field": "k", "type": "quantitative", "scale": {"domain": [0, 3.073], "zero": false, "nice": false}, "axis": null},
        "y": {"field": "v", "type": "quantitative", "scale": {"domain": [-10, 10], "zero": false, "nice": false}, "axis": {"orient": "left", "values": [-10,-9,-8,-7,-6,-5,-4,-3,-2,-1,0,1,2,3,4,5,6,7,8,9,10], "labels": false, "tickSize": -5, "title": null}},
        "stroke": {"field": "s", "type": "nominal", "scale": {"domain": ["Mo-Ti","Mo-V","Ti-W","Ti-Nb","W-Nb","Mo-W","Mo-Nb","Ti-V","W-V","V-Nb"], "range": ["#000000","#1515e6","#f5a53c","#8e2ee0","#b8a09a","#ea3a2c","#f03ff0","#6fdccf","#5b1a4e","#3d8b32"]}, "legend": null}
       }
      },
      {
       "data": {"name": "d"},
       "mark": {"type": "point", "filled": true, "opacity": 1, "size": 50},
       "encoding": {
        "x": {"field": "k", "type": "quantitative", "scale": {"domain": [0, 3.073], "zero": false, "nice": false}, "axis": null},
        "y": {"field": "v", "type": "quantitative", "scale": {"domain": [-10, 10], "zero": false, "nice": false}, "axis": null},
        "color": {"field": "s", "type": "nominal", "scale": {"domain": ["Mo-Ti","Mo-V","Ti-W","Ti-Nb","W-Nb","Mo-W","Mo-Nb","Ti-V","W-V","V-Nb"], "range": ["#000000","#1515e6","#f5a53c","#8e2ee0","#b8a09a","#ea3a2c","#f03ff0","#6fdccf","#5b1a4e","#3d8b32"]}, "legend": null},
        "shape": {"field": "s", "type": "nominal", "scale": {"domain": ["Mo-Ti","Mo-V","Ti-W","Ti-Nb","W-Nb","Mo-W","Mo-Nb","Ti-V","W-V","V-Nb"], "range": ["circle","diamond","triangle-down","triangle-right","M-1,-0.7L-0.7,-1L0,-0.3L0.7,-1L1,-0.7L0.3,0L1,0.7L0.7,1L0,0.3L-0.7,1L-1,0.7L-0.3,0Z","square","triangle-up","triangle-left","M0,-1L0.235,-0.324L0.951,-0.309L0.38,0.124L0.588,0.809L0,0.4L-0.588,0.809L-0.38,0.124L-0.951,-0.309L-0.235,-0.324Z","circle"]}, "legend": null}
       }
      },
      {
       "data": {"values": [{"k": 0.593, "v": -4.24, "lab": "T"}, {"k": 0.8265, "v": -4.24, "lab": "=1020 K"}]},
       "mark": {"type": "text", "align": "left", "baseline": "alphabetic", "fontSize": 26},
       "encoding": {
        "x": {"field": "k", "type": "quantitative", "scale": {"domain": [0, 3.073], "zero": false, "nice": false}, "axis": null},
        "y": {"field": "v", "type": "quantitative", "scale": {"domain": [-10, 10], "zero": false, "nice": false}, "axis": {"orient": "right", "values": [-10,-9,-8,-7,-6,-5,-4,-3,-2,-1,0,1,2,3,4,5,6,7,8,9,10], "labels": false, "tickSize": -5, "title": null}},
        "text": {"field": "lab"}
       }
      },
      {
       "data": {"values": [{"k": 0.713, "v": -4.79, "lab": "sp"}]},
       "mark": {"type": "text", "align": "left", "baseline": "alphabetic", "fontSize": 17},
       "encoding": {"x": {"field": "k", "type": "quantitative", "scale": {"domain": [0, 3.073], "zero": false, "nice": false}, "axis": null}, "y": {"field": "v", "type": "quantitative", "scale": {"domain": [-10, 10], "zero": false, "nice": false}, "axis": null}, "text": {"field": "lab"}}
      },
      {
       "data": {"values": [{"k": -0.063, "v": 12.1, "lab": "[d]"}]},
       "mark": {"type": "text", "align": "center", "baseline": "alphabetic", "fontSize": 26},
       "encoding": {"x": {"field": "k", "type": "quantitative", "scale": {"domain": [0, 3.073], "zero": false, "nice": false}, "axis": null}, "y": {"field": "v", "type": "quantitative", "scale": {"domain": [-10, 10], "zero": false, "nice": false}, "axis": null}, "text": {"field": "lab"}}
      },
      {
       "data": {"values": [{"k": 0.139, "v": 12.1, "lab": "design 7"}]},
       "mark": {"type": "text", "align": "left", "baseline": "alphabetic", "fontSize": 25},
       "encoding": {"x": {"field": "k", "type": "quantitative", "scale": {"domain": [0, 3.073], "zero": false, "nice": false}, "axis": null}, "y": {"field": "v", "type": "quantitative", "scale": {"domain": [-10, 10], "zero": false, "nice": false}, "axis": null}, "text": {"field": "lab"}}
      }
     ]
    }
   ]
  }
 ]
}
